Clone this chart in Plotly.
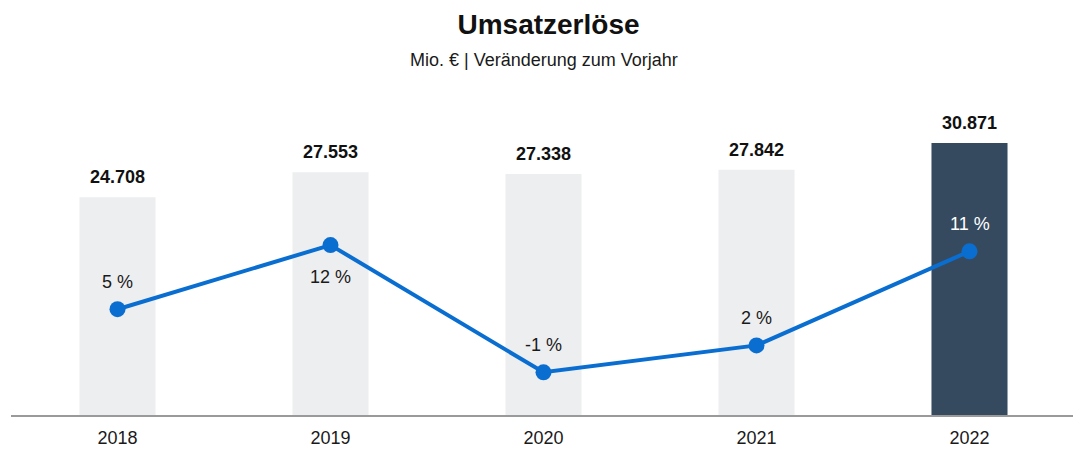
import plotly.graph_objects as go

years = ["2018", "2019", "2020", "2021", "2022"]
revenue = [24708, 27553, 27338, 27842, 30871]
growth = [5.3, 11.5, -0.8, 1.8, 10.9]
growth_labels = ["5 %", "12 %", "-1 %", "2 %", "11 %"]
label_side = ["above", "below", "above", "above", "above"]

bar_colors = ["#EDEEF0"] * 4 + ["#354A5F"]
pct_colors = ["#1A1A1A"] * 4 + ["#FFFFFF"]

def fmt(v):
    return f"{v:,.0f}".replace(",", ".")

FONT = "Liberation Sans, Arial, sans-serif"
pos = list(range(len(years)))

fig = go.Figure()
fig.add_trace(go.Bar(
    x=pos, y=revenue, marker=dict(color=bar_colors, line=dict(width=0)),
    width=0.357, yaxis="y", hoverinfo="skip", showlegend=False,
))
fig.add_trace(go.Scatter(
    x=pos, y=growth, yaxis="y2", mode="lines+markers",
    line=dict(color="#0A6ED1", width=4),
    marker=dict(color="#0A6ED1", size=16),
    hoverinfo="skip", showlegend=False,
))

annotations = []
for x, v in zip(pos, revenue):
    annotations.append(dict(
        x=x, y=v, xref="x", yref="y", text=f"<b>{fmt(v)}</b>", showarrow=False,
        yanchor="middle", yshift=20, font=dict(family=FONT, size=18, color="#111111"),
    ))
for x, g, t, side, c in zip(pos, growth, growth_labels, label_side, pct_colors):
    annotations.append(dict(
        x=x, y=g, xref="x", yref="y2", text=t, showarrow=False,
        yanchor="middle", yshift=27 if side == "above" else -32,
        font=dict(family=FONT, size=18, color=c),
    ))
annotations.append(dict(
    x=0.5, y=1 + 40 / 315, xref="paper", yref="paper", text="Mio. € | Veränderung zum Vorjahr",
    showarrow=False, yanchor="middle", font=dict(family=FONT, size=18, color="#1A1A1A"),
))

fig.update_layout(
    width=1081, height=449,
    margin=dict(l=3, r=13, t=92, b=42),
    paper_bgcolor="white", plot_bgcolor="white",
    title=dict(text="<b>Umsatzerlöse</b>", x=0.5, xanchor="center", y=1 - 16 / 449, yanchor="middle",
               font=dict(family=FONT, size=28, color="#111111")),
    xaxis=dict(range=[-0.5, len(years) - 0.5], tickmode="array", tickvals=pos, ticktext=years,
               showgrid=False, zeroline=False, showline=True, linecolor="#9A9A9A", linewidth=1.5,
               ticks="", ticklabelstandoff=6,
               tickfont=dict(family=FONT, size=18, color="#1A1A1A")),
    yaxis=dict(range=[0, 35750], visible=False, showgrid=False),
    yaxis2=dict(range=[-4.93, 25.53], overlaying="y", visible=False, showgrid=False),
    annotations=annotations,
)

fig.write_html("out.html")
